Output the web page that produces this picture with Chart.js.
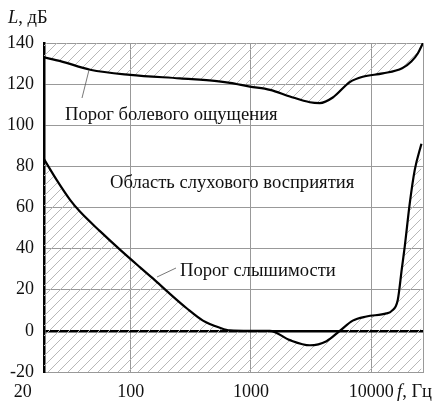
<!DOCTYPE html>
<html>
<head>
<meta charset="utf-8">
<script src="https://cdn.jsdelivr.net/npm/chart.js@4/dist/chart.umd.min.js"></script>
<style>
  html, body { margin: 0; padding: 0; background: #fff; }
</style>
</head>
<body>
<canvas id="chart" width="439" height="401"></canvas>
<script>
// frequency (Hz) / level (dB)
const painFreq  = [19, 26, 46, 99, 257, 520, 670, 980, 1440, 2110, 3090, 3740, 4800, 6640, 8510, 12490, 18100, 21600, 24500, 27000];
const painLevel = [133, 131.2, 127, 124.5, 122.8, 121.5, 120.6, 118.8, 117.2, 114, 111.2, 110.8, 113.5, 121, 123.6, 125.2, 127.7, 131, 135, 140];

const hearFreq  = [19, 24.2, 31.3, 37.8, 55.5, 81.4, 119, 153, 212, 292, 399, 552, 668, 980, 1436, 2107, 3093, 4255, 5485, 7030, 9140, 13410, 14760, 16650, 17980, 19030, 20950, 23060, 26200];
const hearLevel = [83.5, 73.4, 63.7, 58, 48.5, 39.5, 31, 25.5, 18, 11, 5, 1.5, 0.2, 0, 0, -4.5, -7, -5, 0, 5, 7, 8.5, 9.6, 15, 30, 41, 62, 78.3, 91];

const xTickValues = [19, 100, 1000, 10000, 27000];
const xTickLabels = ['20', '100', '1000', '10000'];
const yTicks = [-20, 0, 20, 40, 60, 80, 100, 120, 140];

const FONT = '"Liberation Serif", "Times New Roman", serif';

// diagonal hatching
function hatch() {
  const c = document.createElement('canvas');
  c.width = 10; c.height = 10;
  const g = c.getContext('2d');
  g.strokeStyle = '#b8b8b8';
  g.lineWidth = 1;
  g.beginPath();
  g.moveTo(-5, 5); g.lineTo(5, -5);
  g.moveTo(0, 10); g.lineTo(10, 0);
  g.moveTo(5, 15); g.lineTo(15, 5);
  g.stroke();
  return g.createPattern(c, 'repeat');
}
const pattern = hatch();

const labelsPlugin = {
  id: 'labels',
  afterDraw(chart) {
    const ctx = chart.ctx;
    const xs = chart.scales.x;
    ctx.save();
    ctx.fillStyle = '#111';
    ctx.font = '18px ' + FONT;
    ctx.textBaseline = 'middle';
    ctx.textAlign = 'center';
    xTickLabels.forEach((t, i) => {
      let px = xs.getPixelForValue(i === 0 ? 20 : xTickValues[i]);
      if (i === 0) px -= 24;
      ctx.fillText(t, px, 392);
    });

    // axis titles
    ctx.textAlign = 'left';
    ctx.font = 'italic 18.5px ' + FONT;
    ctx.fillText('L', 8, 18);
    let w = ctx.measureText('L').width;
    ctx.font = '18.5px ' + FONT;
    ctx.fillText(', дБ', 8 + w, 18);

    ctx.font = 'italic 18.5px ' + FONT;
    ctx.fillText('f', 397, 392);
    w = ctx.measureText('f').width;
    ctx.font = '18.5px ' + FONT;
    ctx.fillText(', Гц', 397 + w, 392);

    // annotations
    ctx.font = '18.6px ' + FONT;
    ctx.fillText('Порог болевого ощущения', 65, 115);
    ctx.fillText('Область слухового восприятия', 110, 183);
    ctx.fillText('Порог слышимости', 180, 271);

    ctx.strokeStyle = '#555';
    ctx.lineWidth = 0.8;
    ctx.beginPath();
    ctx.moveTo(82, 98); ctx.lineTo(89, 70);
    ctx.moveTo(176, 268); ctx.lineTo(157, 277);
    ctx.stroke();
    ctx.restore();
  }
};

new Chart(document.getElementById('chart'), {
  type: 'line',
  data: {
    datasets: [{
      data: painFreq.map((f, i) => ({ x: f, y: painLevel[i] })),
      borderColor: '#000',
      borderWidth: 2.2,
      pointRadius: 0,
      cubicInterpolationMode: 'monotone',
      fill: 'end',
      backgroundColor: pattern
    }, {
      data: hearFreq.map((f, i) => ({ x: f, y: hearLevel[i] })),
      borderColor: '#000',
      borderWidth: 2.2,
      pointRadius: 0,
      cubicInterpolationMode: 'monotone',
      fill: 'start',
      backgroundColor: pattern
    }]
  },
  options: {
    responsive: false,
    animation: false,
    devicePixelRatio: 1,
    layout: { padding: { top: 43, right: 16, left: 0, bottom: 0 } },
    plugins: { legend: { display: false }, tooltip: { enabled: false } },
    scales: {
      x: {
        type: 'logarithmic',
        min: 19,
        max: 27000,
        afterBuildTicks: s => { s.ticks = xTickValues.map(v => ({ value: v })); },
        afterFit: s => { s.height = 29; },
        ticks: { display: false },
        grid: { color: '#999', lineWidth: 1, drawTicks: false },
        border: { color: '#999', width: 1 }
      },
      y: {
        min: -20,
        max: 140,
        afterBuildTicks: s => { s.ticks = yTicks.map(v => ({ value: v })); },
        afterFit: s => { s.width = 44; },
        ticks: {
          color: '#111',
          padding: 10,
          font: { family: FONT, size: 18 }
        },
        grid: {
          drawTicks: false,
          color: c => c.tick && c.tick.value === 0 ? '#000' : '#999',
          lineWidth: c => c.tick && c.tick.value === 0 ? 2.5 : 1
        },
        border: { color: '#000', width: 2.5 }
      }
    }
  },
  plugins: [labelsPlugin]
});
</script>
</body>
</html>
